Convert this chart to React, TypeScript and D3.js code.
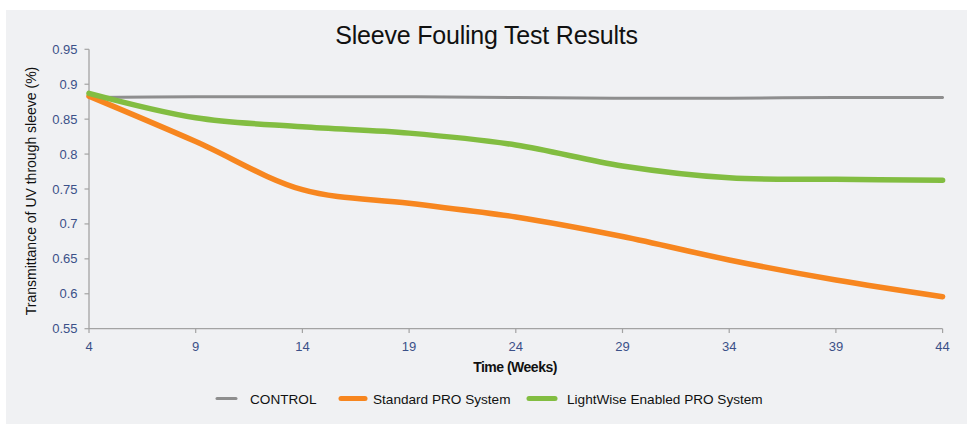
import React from "react";
import * as d3 from "d3";

const weeks = [4, 9, 14, 19, 24, 29, 34, 39, 44];
const control = [0.881, 0.882, 0.882, 0.882, 0.881, 0.880, 0.880, 0.881, 0.881];
const standard = [0.883, 0.818, 0.749, 0.7295, 0.710, 0.682, 0.6484, 0.6197, 0.5958];
const lightwise = [0.887, 0.852, 0.839, 0.830, 0.813, 0.783, 0.766, 0.7639, 0.7625];
const xTicks = [4, 9, 14, 19, 24, 29, 34, 39, 44];
const yTicks = [0.55, 0.6, 0.65, 0.7, 0.75, 0.8, 0.85, 0.9, 0.95];
const seriesNames = ["CONTROL", "Standard PRO System", "LightWise Enabled PRO System"];

const W = 967;
const H = 424;
const FONT = "'Liberation Sans', Arial, Helvetica, sans-serif";

export default function App() {
  const x = d3.scaleLinear().domain([4, 44]).range([89, 942.6]);
  const y = d3.scaleLinear().domain([0.55, 0.95]).range([328.7, 49.3]);

  const series = [
    { name: seriesNames[0], values: control, color: "#8e8e8e", width: 3 },
    { name: seriesNames[1], values: standard, color: "#f7861f", width: 5.5 },
    { name: seriesNames[2], values: lightwise, color: "#82bd41", width: 5.5 },
  ];

  const line = d3
    .line<[number, number]>()
    .x((d) => x(d[0]))
    .y((d) => y(d[1]))
    .curve(d3.curveCatmullRom.alpha(0.5));

  const axisColor = "#a3a3a3";
  const tickColor = "#3b5088";

  const legend = [
    { x1: 217, x2: 236, tx: 250 },
    { x1: 341, x2: 365, tx: 373 },
    { x1: 529, x2: 555, tx: 567 },
  ];

  return (
    <svg
      width={W}
      height={H}
      style={{ position: "absolute", left: 0, top: 0, display: "block" }}
    >
      <rect x={0} y={0} width={W} height={H} fill="#ffffff" />
      <rect x={6} y={10} width={961} height={414} fill="#f0f1f3" />
      <text
        x={486.5}
        y={43.5}
        textAnchor="middle"
        fontFamily={FONT}
        fontSize={25}
        letterSpacing={-0.2}
        fill="#111"
      >
        Sleeve Fouling Test Results
      </text>

      {/* axes */}
      <line x1={89} x2={89} y1={49.3} y2={328.7} stroke={axisColor} strokeWidth={1.3} />
      <line x1={89} x2={942.6} y1={328.7} y2={328.7} stroke={axisColor} strokeWidth={1.3} />
      {yTicks.map((t) => (
        <g key={"y" + t}>
          <line x1={84.5} x2={89} y1={y(t)} y2={y(t)} stroke={axisColor} strokeWidth={1.2} />
          <text
            x={77.5}
            y={y(t) + 4.5}
            textAnchor="end"
            fontFamily={FONT}
            fontSize={13}
            fill={tickColor}
          >
            {String(t)}
          </text>
        </g>
      ))}
      {xTicks.map((t) => (
        <g key={"x" + t}>
          <line x1={x(t)} x2={x(t)} y1={328.7} y2={333} stroke={axisColor} strokeWidth={1.2} />
          <text
            x={x(t)}
            y={350.5}
            textAnchor="middle"
            fontFamily={FONT}
            fontSize={13}
            fill={tickColor}
          >
            {String(t)}
          </text>
        </g>
      ))}

      <text
        transform="translate(36,191) rotate(-90)"
        textAnchor="middle"
        fontFamily={FONT}
        fontSize={14}
        fill="#111"
      >
        Transmittance of UV through sleeve (%)
      </text>
      <text
        x={515}
        y={371.5}
        textAnchor="middle"
        fontFamily={FONT}
        fontWeight="bold"
        fontSize={14}
        letterSpacing={-0.5}
        fill="#111"
      >
        Time (Weeks)
      </text>

      {series.map((s) => (
        <path
          key={s.name}
          d={line(weeks.map((w, i) => [w, s.values[i]] as [number, number])) || ""}
          fill="none"
          stroke={s.color}
          strokeWidth={s.width}
          strokeLinecap="round"
          strokeLinejoin="round"
        />
      ))}

      {series.map((s, i) => (
        <g key={"lg" + s.name}>
          <line
            x1={legend[i].x1}
            x2={legend[i].x2}
            y1={398.5}
            y2={398.5}
            stroke={s.color}
            strokeWidth={i === 0 ? 3 : 5}
            strokeLinecap="round"
          />
          <text
            x={legend[i].tx}
            y={403.5}
            fontFamily={FONT}
            fontSize={13.6}
            fill="#111"
          >
            {s.name}
          </text>
        </g>
      ))}
    </svg>
  );
}
